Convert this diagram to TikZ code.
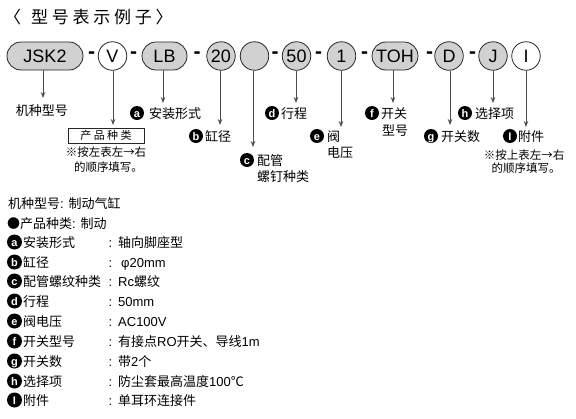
\documentclass[tikz,border=0pt]{standalone}
\usepackage{fontspec}
\setmainfont{Liberation Sans}
\newfontfamily\cjk{Noto Sans CJK SC}
\newfontfamily\cjkspaced{Noto Sans CJK SC}[LetterSpace=22]
\usetikzlibrary{arrows.meta}
\newcommand\C[1]{{\cjk #1}}
\begin{document}
\begin{tikzpicture}[x=1pt,y=-1pt,
  shapebase/.style={draw=black!85, fill=black!18, line width=0.8pt, inner sep=0pt,
    font=\fontsize{18}{18}\selectfont, text height=12.9pt, text depth=0pt},
  pill/.style={shapebase, rectangle, rounded corners=14pt, minimum height=28pt},
  circ/.style={shapebase, circle, minimum size=28.5pt},
  wcirc/.style={circ, fill=white},
  hy/.style={inner sep=0pt, font=\bfseries\fontsize{21}{21}\selectfont},
  arr/.style={draw=black!70, line width=1pt, -{Stealth[length=6pt,width=4.5pt]}},
  badge/.style={circle, fill=black, text=white, inner sep=0pt, minimum size=14pt,
    font=\bfseries\fontsize{11}{11}\selectfont, text height=8pt, text depth=0pt},
  lab/.style={inner sep=0pt, font=\cjk\fontsize{13}{15}\selectfont, text height=11pt, text depth=1pt},
  labw/.style={lab, anchor=west},
  note/.style={inner sep=0pt, font=\cjk\fontsize{11.5}{13}\selectfont, text height=10pt, text depth=1pt},
  row/.style={inner sep=0pt, anchor=west, font=\fontsize{13}{15}\selectfont, text height=11pt, text depth=1pt},
]
\useasboundingbox[fill=white] (0,0) rectangle (576,418);

% title
\node[anchor=west, inner sep=0pt, font=\cjkspaced\fontsize{17}{18}\selectfont] (title) at (4,17) {〈\hspace{10pt}型号表示例子〉};

% model code row
\node[pill, minimum width=76pt] (jsk) at (45,56) {JSK2};
\node[hy] (h1) at (91.5,55) {-};
\node[wcirc] (v) at (112.5,56) {V};
\node[hy] (h2) at (133.5,55) {-};
\node[pill, minimum width=45pt] (lb) at (164.5,56) {LB};
\node[hy] (h3) at (197,55) {-};
\node[circ] (n20) at (221,56) {20};
\node[circ] (emp) at (254.5,56) {};
\node[hy] (h4) at (275,55) {-};
\node[circ] (n50) at (296.5,56) {50};
\node[hy] (h5) at (318.5,55) {-};
\node[circ] (n1) at (341.5,56) {1};
\node[hy] (h6) at (364.5,55) {-};
\node[pill, minimum width=46pt] (toh) at (395,56) {TOH};
\node[hy] (h7) at (429.5,55) {-};
\node[circ] (d) at (449,56) {D};
\node[hy] (h8) at (472.5,55) {-};
\node[circ] (j) at (493,56) {J};
\node[wcirc] (ii) at (526,56) {I};

% arrow tips
\coordinate (t1) at (43,98);
\coordinate (t2) at (113,125);
\coordinate (t3) at (163,103);
\coordinate (t4) at (220,125);
\coordinate (t5) at (253,147);
\coordinate (t6) at (296,103);
\coordinate (t7) at (341,127);
\coordinate (t8) at (393,103);
\coordinate (t9) at (450,125);
\coordinate (t10) at (493,103);
\coordinate (t11) at (526,127);

\draw[arr] (jsk.south -| t1) -- (t1);
\draw[arr] (v.south -| t2) -- (t2);
\draw[arr] (lb.south -| t3) -- (t3);
\draw[arr] (n20.south -| t4) -- (t4);
\draw[arr] (emp.south -| t5) -- (t5);
\draw[arr] (n50.south -| t6) -- (t6);
\draw[arr] (n1.south -| t7) -- (t7);
\draw[arr] (toh.south -| t8) -- (t8);
\draw[arr] (d.south -| t9) -- (t9);
\draw[arr] (j.south -| t10) -- (t10);
\draw[arr] (ii.south -| t11) -- (t11);

% labels under the code
\node[lab] (l0) at (42,110) {机种型号};
\node[draw=black!85, line width=0.8pt, minimum width=76pt, minimum height=15pt, inner sep=0pt,
  font=\cjkspaced\fontsize{11}{12}\selectfont, text height=9pt, text depth=1pt] (pbox) at (106,135.5) {产品种类};
\node[note] (n1a) at (106,152) {※按左表左→右};
\node[note] (n1b) at (108.5,167) {的顺序填写。};

\node[badge] (ba) at (137,113) {a};
\node[labw] (la) at (149,113) {安装形式};
\node[badge] (bb) at (196,136) {b};
\node[labw] (lbb) at (205,136) {缸径};
\node[badge] (bc) at (247,160) {c};
\node[labw] (lc1) at (257,160) {配管};
\node[labw] (lc2) at (257,176) {螺钉种类};
\node[badge] (bd) at (272,113) {d};
\node[labw] (ld) at (281,113) {行程};
\node[badge] (be) at (317,136) {e};
\node[labw] (le1) at (327,136) {阀};
\node[labw] (le2) at (327,152) {电压};
\node[badge] (bf) at (372,113) {f};
\node[labw] (lf1) at (381,113) {开关};
\node[labw] (lf2) at (382,130) {型号};
\node[badge] (bg) at (431,136) {g};
\node[labw] (lg) at (441,136) {开关数};
\node[badge] (bh) at (465,113) {h};
\node[labw] (lh) at (475,113) {选择项};
\node[badge] (bi) at (510,136) {I};
\node[labw] (li) at (518,136) {附件};
\node[note] (n2a) at (524,155) {※按上表左→右};
\node[note] (n2b) at (526,168) {的顺序填写。};

% bottom list
\node[row] (r0) at (8,203) {\C{机种型号}: \C{制动气缸}};
\node[row] (r1) at (7,223) {\C{●产品种类}: \C{制动}};

\node[badge, minimum size=15pt] (ra) at (14.5,242) {a};
\node[row] (ra1) at (23,242) {\C{安装形式}};
\node[row] (ra2) at (108.5,242) {:};
\node[row] (ra3) at (118,242) {\C{轴向脚座型}};

\node[badge, minimum size=15pt] (rb) at (14.5,262) {b};
\node[row] (rb1) at (23,262) {\C{缸径}};
\node[row] (rb2) at (108.5,262) {:};
\node[row] (rb3) at (121,262) {φ20mm};

\node[badge, minimum size=15pt] (rc) at (14.5,281) {c};
\node[row] (rc1) at (23,281) {\C{配管螺纹种类}};
\node[row] (rc2) at (108.5,281) {:};
\node[row] (rc3) at (118,281) {Rc\C{螺纹}};

\node[badge, minimum size=15pt] (rd) at (14.5,301) {d};
\node[row] (rd1) at (23,301) {\C{行程}};
\node[row] (rd2) at (108.5,301) {:};
\node[row] (rd3) at (118,301) {50mm};

\node[badge, minimum size=15pt] (re) at (14.5,321) {e};
\node[row] (re1) at (23,321) {\C{阀电压}};
\node[row] (re2) at (108.5,321) {:};
\node[row] (re3) at (118,321) {AC100V};

\node[badge, minimum size=15pt] (rf) at (14.5,341) {f};
\node[row] (rf1) at (23,341) {\C{开关型号}};
\node[row] (rf2) at (108.5,341) {:};
\node[row] (rf3) at (118,341) {\C{有接点}RO\C{开关、导线}1m};

\node[badge, minimum size=15pt] (rg) at (14.5,361) {g};
\node[row] (rg1) at (23,361) {\C{开关数}};
\node[row] (rg2) at (108.5,361) {:};
\node[row] (rg3) at (118,361) {\C{带}2\C{个}};

\node[badge, minimum size=15pt] (rh) at (14.5,381) {h};
\node[row] (rh1) at (23,381) {\C{选择项}};
\node[row] (rh2) at (108.5,381) {:};
\node[row] (rh3) at (118,381) {\C{防尘套最高温度}100\C{℃}};

\node[badge, minimum size=15pt] (ri) at (14.5,400) {I};
\node[row] (ri1) at (23,400) {\C{附件}};
\node[row] (ri2) at (108.5,400) {:};
\node[row] (ri3) at (118,400) {\C{单耳环连接件}};
\end{tikzpicture}
\end{document}
